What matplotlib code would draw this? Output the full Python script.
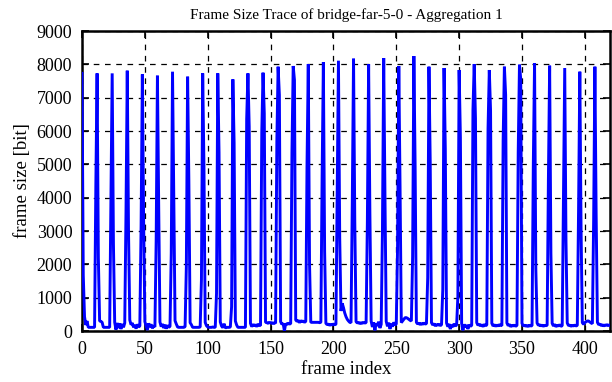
import matplotlib
matplotlib.use("Agg")
import matplotlib.pyplot as plt
import numpy as np

plt.rcParams['font.family'] = ['Liberation Serif', 'DejaVu Serif']

# I-frame peak sizes (every 12th frame, starting at frame 0)
peak_vals = [7730, 7730, 7730, 7810, 7700, 7660, 7780, 7630, 7730, 7730, 7550, 7730,
             7750, 7930, 7950, 8010, 8070, 8110, 8170, 8010, 8190, 7950, 8250,
             7930, 7890, 7830, 8010, 7830, 7930, 7990, 8030, 7960, 7890, 7780, 7930]

# frame right before peaks 1..34
pre_vals = [4360, 3930, 3580, 3130, 2730, 2330, 1930, 1530, 1130, 730,
            6360, 5960, 5700, 5350, 5010, 4630, 4200, 3850, 3280, 3030, 2450, 2230,
            1600, 1250, 1030, 6630, 6080, 5700, 5360, 4960, 4500, 4050, 3600, 3280]

# frame right after each peak
post_vals = [1680, 2200, 2610, 2980, 3380, 3760, 4200, 4500, 4980, 5350, 5640, 6130,
             6530, 7080, 7530, 2000, 2400, 2800, 3250, 3550, 4050, 4330, 4930,
             5060, 5460, 5810, 6380, 6610, 7080, 7560, 1880, 2330, 2700, 3030, 3480]

# the small P/B frames in between
base_vals = [
    [430, 180, 300, 110, 110, 110, 110, 110, 110],
    [300, 290, 260, 110, 110, 110, 110, 110, 110],
    [260, 40, 240, 90, 230, 60, 210, 110, 240],
    [330, 190, 240, 110, 180, 70, 200, 120, 150],
    [280, 160, 30, 230, 120, 200, 80, 160, 120],
    [270, 130, 210, 90, 190, 70, 170, 110, 140],
    [310, 210, 120, 110, 110, 110, 110, 110, 130],
    [250, 190, 110, 110, 110, 110, 110, 110, 120],
    [260, 160, 120, 110, 110, 110, 120, 110, 110],
    [270, 150, 100, 220, 90, 110, 110, 110, 120],
    [300, 180, 110, 110, 110, 110, 110, 110, 110],
    [230, 130, 200, 150, 190, 130, 210, 170, 160],
    [260, 250, 230, 260, 240, 250, 220, 250, 230],
    [280, 200, 230, 0, 220, 190, 240, 210, 220],
    [330, 290, 320, 250, 310, 280, 300, 260, 290],
    [260, 260, 260, 260, 260, 260, 260, 250, 260],
    [230, 190, 210, 170, 200, 180, 210, 190, 200],
    [600, 830, 700, 540, 430, 350, 300, 260, 250],
    [280, 240, 260, 220, 250, 230, 260, 240, 250],
    [300, 120, 260, 20, 230, 150, 280, 90, 200],
    [290, 140, 250, 60, 220, 130, 260, 180, 210],
    [250, 300, 350, 400, 400, 380, 350, 320, 300],
    [260, 210, 240, 190, 230, 200, 240, 210, 220],
    [250, 180, 220, 150, 200, 170, 210, 160, 190],
    [240, 130, 210, 60, 190, 120, 220, 150, 180],
    [230, 20, 200, 110, 180, 60, 190, 140, 170],
    [250, 170, 210, 150, 190, 130, 200, 160, 180],
    [230, 150, 190, 140, 180, 150, 190, 170, 160],
    [240, 160, 200, 130, 170, 150, 180, 140, 170],
    [230, 150, 180, 140, 170, 130, 180, 150, 160],
    [240, 170, 190, 150, 180, 140, 170, 160, 170],
    [230, 150, 200, 130, 170, 150, 190, 140, 160],
    [240, 160, 180, 140, 170, 150, 180, 150, 170],
    [250, 200, 250, 280, 300, 300, 270, 240, 220],
    [260, 190, 210, 160, 190, 150, 180, 170, 190, 160, 180],
]

sizes = []
for k in range(len(peak_vals)):
    sizes.append(peak_vals[k])
    sizes.append(post_vals[k])
    sizes.extend(base_vals[k])
    if k < len(pre_vals):
        sizes.append(pre_vals[k])
frames = np.arange(len(sizes))

fig = plt.figure(figsize=(6.12, 3.82), dpi=100)
ax = fig.add_axes([0.134, 0.1335, 0.8627, 0.7853])

ax.plot(frames, sizes, color='#0000ff', lw=2.1, solid_joinstyle='bevel', zorder=3)

ax.set_xlim(0, 420)
ax.set_ylim(0, 9000)
ax.set_xticks(np.arange(0, 401, 50))
ax.set_yticks(np.arange(0, 9001, 1000))
ax.grid(True, color='black', lw=0.9, linestyle=(0, (4.5, 4.5)))
ax.tick_params(direction='in', length=5, width=1.2, top=True, right=True,
               labelsize=13, pad=7)
for sp in ax.spines.values():
    sp.set_linewidth(1.8)

ax.set_title('Frame Size Trace of bridge-far-5-0 - Aggregation 1', fontsize=11, pad=9)
ax.set_xlabel('frame index', fontsize=13.5, labelpad=2)
ax.set_ylabel('frame size [bit]', fontsize=13.5, labelpad=4)

fig.savefig('out.png', dpi=100)
